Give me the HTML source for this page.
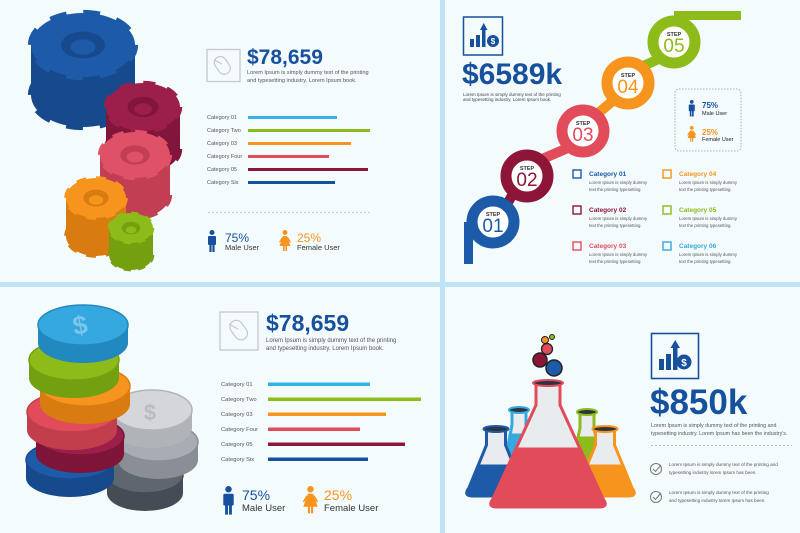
<!DOCTYPE html>
<html><head><meta charset="utf-8"><style>
html,body{margin:0;padding:0;background:#bfe4f5;}
svg{display:block;font-family:"Liberation Sans",Arial,sans-serif;}
</style></head><body>
<svg id="s" width="800" height="533" viewBox="0 0 800 533" xmlns="http://www.w3.org/2000/svg">
<rect width="800" height="533" fill="#bfe4f5"/>
<rect x="0" y="0" width="440" height="282" fill="#f3fbfd"/>
<rect x="445" y="0" width="355" height="282" fill="#f3fbfd"/>
<rect x="0" y="287" width="440" height="246" fill="#f3fbfd"/>
<rect x="445" y="287" width="355" height="246" fill="#f3fbfd"/>
<g id="art"></g>

<!-- Panel 1 -->
<rect x="207" y="49.5" width="33" height="32" fill="none" stroke="#c4c8cc" stroke-width="1.3"/>
<g fill="none" stroke="#c4c8cc" stroke-width="1.2"><rect x="216" y="56" width="12" height="19" rx="6" transform="rotate(-35 222 65)"/><line x1="214" y1="60" x2="222" y2="64"/></g>
<text x="247" y="64" font-size="21" font-weight="bold" fill="#17509c">$78,659</text>
<text x="247" y="74" font-size="5.6" fill="#555">Lorem Ipsum is simply dummy text of the printing</text>
<text x="247" y="82" font-size="5.6" fill="#555">and typesetting industry. Lorem Ipsum book.</text>
<g font-size="5.5" fill="#555">
<text x="207" y="119">Category 01</text><text x="207" y="132">Category Two</text><text x="207" y="145">Category 03</text><text x="207" y="158">Category Four</text><text x="207" y="171">Category 05</text><text x="207" y="184">Category Six</text></g>
<rect x="248" y="116" width="89" height="3" fill="#35b1e6"/>
<rect x="248" y="129" width="122" height="3" fill="#8dbb1a"/>
<rect x="248" y="142" width="103" height="3" fill="#f7941d"/>
<rect x="248" y="155" width="81" height="3" fill="#e14b5a"/>
<rect x="248" y="168" width="120" height="3" fill="#8c1538"/>
<rect x="248" y="181" width="87" height="3" fill="#17509c"/>
<line x1="208" y1="212.5" x2="370" y2="212.5" stroke="#c8cdd2" stroke-dasharray="2,2"/>
<text x="225" y="242" font-size="12" fill="#17509c">75%</text>
<text x="225" y="250" font-size="7.5" fill="#333">Male User</text>
<text x="297" y="242" font-size="12" fill="#f7941d">25%</text>
<text x="297" y="250" font-size="7.5" fill="#333">Female User</text>

<!-- Panel 2 -->
<rect x="463.5" y="17" width="39" height="38" fill="none" stroke="#17509c" stroke-width="1.5"/>
<g fill="#17509c"><rect x="470" y="39" width="4" height="8"/><rect x="476" y="35" width="4" height="12"/><rect x="482" y="28" width="3.5" height="19"/><polygon points="480,30 483.7,23 487.5,30"/><circle cx="493" cy="41" r="6"/></g>
<text x="493" y="44" font-size="8" font-weight="bold" fill="#fff" text-anchor="middle">$</text>
<text x="462" y="84" font-size="30" font-weight="bold" fill="#17509c">$6589k</text>
<text x="463" y="96" font-size="4.5" fill="#444">Lorem Ipsum is simply dummy text of the printing</text>
<text x="463" y="101" font-size="4.5" fill="#444">and typesetting industry. Lorem Ipsum book.</text>
<g id="steps"></g>
<rect x="675" y="89" width="66" height="62" rx="4" fill="none" stroke="#999" stroke-dasharray="1.5,1.5" stroke-width="0.8"/>
<text x="702" y="108" font-size="8" font-weight="bold" fill="#17509c">75%</text>
<text x="702" y="115" font-size="5.5" fill="#222">Male User</text>
<text x="702" y="135" font-size="8" font-weight="bold" fill="#f7941d">25%</text>
<text x="702" y="141" font-size="5.5" fill="#222">Female User</text>
<g id="cats"></g>

<!-- Panel 3 -->
<rect x="220" y="312" width="38" height="38" fill="none" stroke="#c4c8cc" stroke-width="1.3"/>
<g fill="none" stroke="#c4c8cc" stroke-width="1.2"><rect x="232" y="320" width="13" height="21" rx="6.5" transform="rotate(-35 238 330)"/><line x1="229" y1="324" x2="238" y2="329"/></g>
<text x="266" y="331" font-size="23" font-weight="bold" fill="#17509c">$78,659</text>
<text x="266" y="342" font-size="6" fill="#555">Lorem Ipsum is simply dummy text of the printing</text>
<text x="266" y="350" font-size="6" fill="#555">and typesetting industry. Lorem Ipsum book.</text>
<g font-size="5.8" fill="#555">
<text x="221" y="386">Category 01</text><text x="221" y="401">Category Two</text><text x="221" y="416">Category 03</text><text x="221" y="431">Category Four</text><text x="221" y="446">Category 05</text><text x="221" y="461">Category Six</text></g>
<rect x="268" y="382.5" width="102" height="3.5" fill="#35b1e6"/>
<rect x="268" y="397.5" width="153" height="3.5" fill="#8dbb1a"/>
<rect x="268" y="412.5" width="118" height="3.5" fill="#f7941d"/>
<rect x="268" y="427.5" width="92" height="3.5" fill="#e14b5a"/>
<rect x="268" y="442.5" width="137" height="3.5" fill="#8c1538"/>
<rect x="268" y="457.5" width="100" height="3.5" fill="#17509c"/>
<text x="242" y="500" font-size="14" fill="#17509c">75%</text>
<text x="242" y="511" font-size="9.5" fill="#333">Male User</text>
<text x="324" y="500" font-size="14" fill="#f7941d">25%</text>
<text x="324" y="511" font-size="9.5" fill="#333">Female User</text>

<!-- Panel 4 -->
<rect x="651.5" y="333.5" width="47" height="45" fill="none" stroke="#17509c" stroke-width="1.6"/>
<g fill="#17509c"><rect x="659" y="359" width="5" height="11"/><rect x="666" y="354" width="5" height="16"/><rect x="673" y="346" width="4.5" height="24"/><polygon points="670.5,348 675.2,340 680,348"/><circle cx="684" cy="362" r="7.5"/></g>
<text x="684" y="366" font-size="10" font-weight="bold" fill="#fff" text-anchor="middle">$</text>
<text x="650" y="414" font-size="35" font-weight="bold" fill="#17509c">$850k</text>
<text x="651" y="427" font-size="5.3" fill="#555">Lorem Ipsum is simply dummy text of the printing and</text>
<text x="651" y="435" font-size="5.3" fill="#555">typesetting industry. Lorem Ipsum has been the industry's.</text>
<line x1="651" y1="445.5" x2="792" y2="445.5" stroke="#b8bec4" stroke-dasharray="2,2"/>
<g fill="none" stroke="#777" stroke-width="1"><circle cx="656" cy="469" r="5.5"/><polyline points="653,469 655.5,471.5 661,465"/><circle cx="656" cy="497" r="5.5"/><polyline points="653,497 655.5,499.5 661,493"/></g>
<g font-size="4.6" fill="#555">
<text x="669" y="466">Lorem Ipsum is simply dummy text of the printing and</text>
<text x="669" y="474">typesetting industry lorem Ipsum has been.</text>
<text x="669" y="494">Lorem Ipsum is simply dummy text of the printing</text>
<text x="669" y="502">and typesetting industry lorem Ipsum has been.</text></g>
</svg>
<script>
var NS="http://www.w3.org/2000/svg",art=document.getElementById('art');
function el(t,a,p){var e=document.createElementNS(NS,t);for(var k in a)e.setAttribute(k,a[k]);(p||art).appendChild(e);return e;}
function per(a,b){return Math.PI*(3*(a+b)-Math.sqrt((3*a+b)*(a+3*b)));}
function gear(cx,cy,rx,ry,h,c,d){
 var C=per(rx,ry)/16;
 el('ellipse',{cx:cx,cy:cy+h,rx:rx,ry:ry,fill:'none',stroke:d,'stroke-width':rx*0.12,'stroke-dasharray':C+','+C});
 el('rect',{x:cx-rx,y:cy,width:2*rx,height:h,fill:d});
 el('ellipse',{cx:cx,cy:cy+h,rx:rx,ry:ry,fill:d});
 el('ellipse',{cx:cx,cy:cy,rx:rx,ry:ry,fill:'none',stroke:c,'stroke-width':rx*0.12,'stroke-dasharray':C+','+C});
 el('ellipse',{cx:cx,cy:cy,rx:rx,ry:ry,fill:c});
 el('ellipse',{cx:cx,cy:cy,rx:rx*.42,ry:ry*.42,fill:d});
 el('ellipse',{cx:cx,cy:cy+2,rx:rx*.24,ry:ry*.24,fill:c});
}
gear(83,45,52,32,50,'#1d5aa8','#164a8c');
gear(143,107,37,24,42,'#9c1f4b','#82153b');
gear(135,155,35,23,40,'#de5166','#c23e52');
gear(96,198,30,20,38,'#f7941d','#d87c12');
gear(131,228,22,15,27,'#8dbb1a','#74a010');
function coin(cx,cy,rx,ry,h,c,d){
 el('rect',{x:cx-rx,y:cy,width:2*rx,height:h,fill:d});
 el('ellipse',{cx:cx,cy:cy+h,rx:rx,ry:ry,fill:d});
 el('ellipse',{cx:cx,cy:cy,rx:rx,ry:ry,fill:c,stroke:d,'stroke-width':1.5});
}
coin(145,475,38,18,18,'#5e6670','#454c55');
coin(158,442,40,19,18,'#a9adb3','#8a8f96');
coin(152,410,40,20,18,'#d4d6da','#b0b3b8');
coin(70,460,44,19,18,'#1d5aa8','#164a8c');
coin(80,436,44,19,18,'#9c1f4b','#7e1438');
coin(72,412,45,20,18,'#e14b5a','#c23e4c');
coin(85,386,45,20,18,'#f7941d','#d87c12');
coin(74,360,45,20,18,'#8dbb1a','#72a010');
coin(83,325,45,20,18,'#35a8e0','#2288c0');
el('text',{x:80,y:334,'font-size':26,'font-weight':'bold',fill:'#7cc6ee','text-anchor':'middle',transform:'rotate(-10 80 325)'}).textContent='$';
el('text',{x:150,y:420,'font-size':22,'font-weight':'bold',fill:'#b9bcc1','text-anchor':'middle'}).textContent='$';
function flask(cx,top,nw,sh,bot,bw,liq,c,lc){
 var hw=nw/2,bh=bw/2;
 var d='M'+(cx-hw)+','+(top+4)+' L'+(cx-hw)+','+sh+' L'+(cx-bh+6)+','+(bot-8)+' Q'+(cx-bh)+','+bot+' '+(cx-bh+10)+','+bot+' L'+(cx+bh-10)+','+bot+' Q'+(cx+bh)+','+bot+' '+(cx+bh-6)+','+(bot-8)+' L'+(cx+hw)+','+sh+' L'+(cx+hw)+','+(top+4)+' Z';
 el('path',{d:d,fill:'#e9ecee',stroke:c,'stroke-width':3});
 var t=(liq-sh)/(bot-8-sh),w=hw+(bh-6-hw)*t;
 var ld='M'+(cx-w)+','+liq+' L'+(cx-bh+6)+','+(bot-8)+' Q'+(cx-bh)+','+bot+' '+(cx-bh+10)+','+bot+' L'+(cx+bh-10)+','+bot+' Q'+(cx+bh)+','+bot+' '+(cx+bh-6)+','+(bot-8)+' L'+(cx+w)+','+liq+' Z';
 el('path',{d:ld,fill:lc,stroke:c,'stroke-width':3});
 el('ellipse',{cx:cx,cy:top+3,rx:hw+3,ry:3,fill:'#2b3440',stroke:c,'stroke-width':2});
}
flask(519,407,14,425,470,40,435,'#35a8e0','#35a8e0');
flask(587,409,14,428,470,40,438,'#8dbb1a','#8dbb1a');
flask(496,426,19,445,496,66,466,'#1d5aa8','#1d5aa8');
flask(605,426,19,445,496,66,466,'#f7941d','#f7941d');
flask(548,380,24,405,507,122,449,'#e14b5a','#e14b5a');
el('circle',{cx:540,cy:360,r:7,fill:'#8c1538',stroke:'#222','stroke-width':1.5});
el('circle',{cx:554,cy:368,r:8,fill:'#1d5aa8',stroke:'#222','stroke-width':1.5});
el('circle',{cx:547,cy:349,r:5.5,fill:'#e14b5a',stroke:'#222','stroke-width':1.3});
el('circle',{cx:545,cy:340,r:3.5,fill:'#f7941d',stroke:'#222','stroke-width':1});
el('circle',{cx:552,cy:337,r:2.5,fill:'#8dbb1a',stroke:'#222','stroke-width':1});
function male(x,y,s,c){var g=el('g',{fill:c,transform:'translate('+x+','+y+') scale('+s+')'});
 el('circle',{cx:5,cy:2.5,r:2.5},g);el('rect',{x:1,y:6,width:8,height:9,rx:1},g);el('rect',{x:2.4,y:14,width:2.2,height:8},g);el('rect',{x:5.4,y:14,width:2.2,height:8},g);}
function female(x,y,s,c){var g=el('g',{fill:c,transform:'translate('+x+','+y+') scale('+s+')'});
 el('circle',{cx:5,cy:2.5,r:2.5},g);el('polygon',{points:'3,6 7,6 10.5,16 -0.5,16'},g);el('polygon',{points:'2,7 -1,12 0,12.5 3,9'},g);el('polygon',{points:'8,7 11,12 10,12.5 7,9'},g);el('rect',{x:3,y:15,width:1.6,height:6},g);el('rect',{x:5.4,y:15,width:1.6,height:6},g);}
male(207,230,1.0,'#17509c');female(280,230,1.0,'#f7941d');
male(222,486,1.3,'#17509c');female(304,486,1.3,'#f7941d');
male(688,100,0.75,'#17509c');female(688,126,0.75,'#f7941d');
var st=document.getElementById('steps');
var cols=['#1d5aa8','#8c1538','#e14b5a','#f7941d','#8dbb1a'];
var cs=[[493,222],[527,176],[583,131],[628,83],[674,42]];
el('rect',{x:464,y:222,width:9,height:42,fill:cols[0]},st);
el('rect',{x:674,y:11,width:67,height:9,fill:cols[4]},st);
for(var i=0;i<4;i++){var a=cs[i],b=cs[i+1];
 el('path',{d:'M'+(a[0]+13)+','+(a[1]-16)+' L'+(b[0]-13)+','+(b[1]+16),stroke:cols[i+1],'stroke-width':10,fill:'none'},st);}
for(var i=0;i<5;i++){el('circle',{cx:cs[i][0],cy:cs[i][1],r:21,fill:'#fff',stroke:cols[i],'stroke-width':11},st);
 el('text',{x:cs[i][0],y:cs[i][1]-6,'font-size':5.5,'font-weight':'bold',fill:'#333','text-anchor':'middle'},st).textContent='STEP';
 el('text',{x:cs[i][0],y:cs[i][1]+10,'font-size':19,fill:cols[i],'text-anchor':'middle'},st).textContent='0'+(i+1);}
var ct=document.getElementById('cats');
var cc=[['#1d5aa8','Category 01',573,170],['#8c1538','Category 02',573,206],['#e14b5a','Category 03',573,242],['#f7941d','Category 04',663,170],['#8dbb1a','Category 05',663,206],['#35a8e0','Category 06',663,242]];
cc.forEach(function(q){el('rect',{x:q[2],y:q[3],width:8,height:8,fill:'none',stroke:q[0],'stroke-width':1.4},ct);
 el('text',{x:q[2]+16,y:q[3]+6,'font-size':6.5,'font-weight':'bold',fill:q[0]},ct).textContent=q[1];
 el('text',{x:q[2]+16,y:q[3]+14,'font-size':4.3,fill:'#555'},ct).textContent='Lorem Ipsum is simply dummy';
 el('text',{x:q[2]+16,y:q[3]+21,'font-size':4.3,fill:'#555'},ct).textContent='text the printing typesetting.';});
</script>
</body></html>
